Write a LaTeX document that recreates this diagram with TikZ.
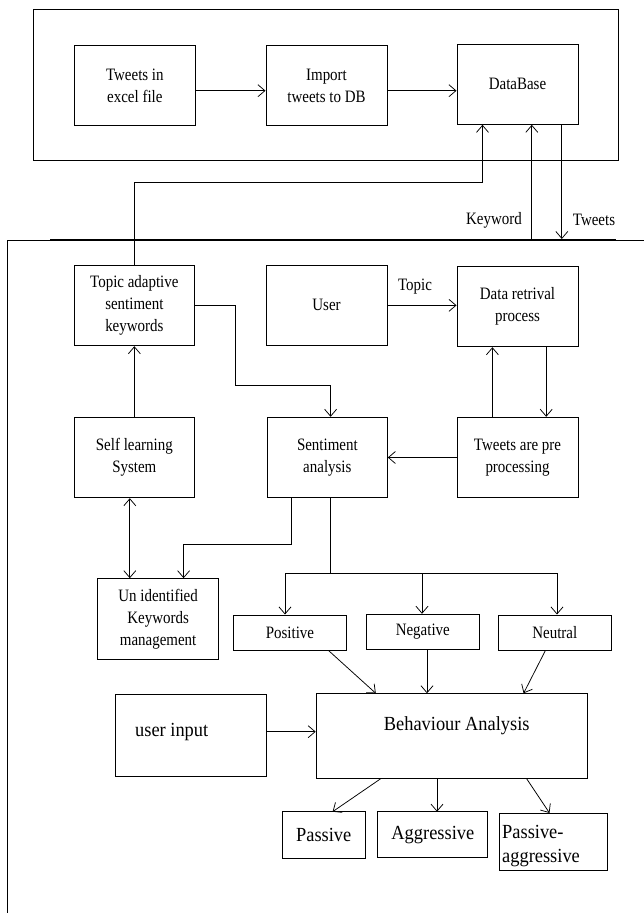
\documentclass[tikz,border=0pt]{standalone}
\usepackage{fontspec}
\setmainfont[FakeStretch=0.86]{Liberation Serif}
\newfontfamily\bigserif[FakeStretch=0.92]{Liberation Serif}
\usetikzlibrary{arrows.meta}
\newcommand{\fsm}{\fontsize{17.4}{22}\selectfont}
\newcommand{\fbg}{\bigserif\fontsize{20}{23.5}\selectfont}
\begin{document}
\begin{tikzpicture}[x=1pt,y=-1pt,
  box/.style={draw, line width=1pt, inner sep=0pt, align=center, font=\fsm},
  arr/.style={-{Straight Barb[length=7pt,width=12pt]}, line width=0.75pt},
  darr/.style={{Straight Barb[length=7pt,width=12pt]}-{Straight Barb[length=7pt,width=12pt]}, line width=0.75pt},
  ln/.style={line width=0.75pt},
  frame/.style={line width=1pt},
  lbl/.style={font=\fsm, inner sep=0pt},
  big/.style={font=\fbg, inner sep=0pt}]
\useasboundingbox (0,0) rectangle (644,913);
\fill[white] (0,0) rectangle (644,913);

% containers
\draw[frame] (33.7,9.3) rectangle (618,160.7);
\draw[frame] (7.4,913) -- (7.4,240.7) -- (644,240.7);
\draw[frame] (50,239) -- (616,239);

% boxes
\node[box, minimum width=120.3pt, minimum height=79.6pt] (excel) at (134.85,85.5) {Tweets in\\excel file};
\node[box, minimum width=121pt, minimum height=79.6pt] (import) at (326.5,85.5) {Import\\tweets to DB};
\node[box, minimum width=121pt, minimum height=80.3pt] (db) at (517.5,84.15) {DataBase};

\node[box, minimum width=120.7pt, minimum height=80.7pt] (topic) at (134.35,305.35) {Topic adaptive\\sentiment\\keywords};
\node[box, minimum width=121pt, minimum height=80.7pt] (user) at (326.5,305.35) {User};
\node[box, minimum width=121pt, minimum height=80.7pt] (dr) at (517.5,306.35) {Data retrival\\process};

\node[box, minimum width=120.7pt, minimum height=80.4pt] (self) at (134.35,457.5) {Self learning\\System};
\node[box, minimum width=119.9pt, minimum height=80.4pt] (sa) at (327.35,457.5) {Sentiment\\analysis};
\node[box, minimum width=121pt, minimum height=80.4pt] (pre) at (517.5,457.5) {Tweets are pre\\processing};

\node[box, minimum width=120.8pt, minimum height=80.6pt] (unid) at (158.1,619) {Un identified\\Keywords\\management};
\node[box, minimum width=112.5pt, minimum height=35pt] (pos) at (289.95,632.5) {Positive};
\node[box, minimum width=113pt, minimum height=34.7pt] (neg) at (422.8,631.65) {Negative};
\node[box, minimum width=112.4pt, minimum height=35pt] (neu) at (554.8,632.5) {Neutral};

\node[box, minimum width=151pt, minimum height=82.7pt] (ui) at (190.5,735.35) {};
\node[big] (uitext) at (171.7,732) {user input};
\node[box, minimum width=271.1pt, minimum height=84.7pt] (ba) at (451.75,735.65) {};
\node[big] (batext) at (456.7,725.7) {Behaviour Analysis};

\node[box, font=\fbg, minimum width=83.5pt, minimum height=46.6pt] (passive) at (323.75,835) {Passive};
\node[box, font=\fbg, minimum width=110.1pt, minimum height=46pt] (aggr) at (432.85,834.7) {Aggressive};
\node[box, minimum width=107.6pt, minimum height=57pt] (pa) at (553.2,841.5) {};
\node[big, align=left, anchor=north west] (patext) at (502,825.5) {Passive-\\aggressive};

% labels
\node[lbl] (kwl) at (494,220) {Keyword};
\node[lbl] (twl) at (594,220) {Tweets};
\node[lbl] (tpl) at (415,287) {Topic};

% coordinates
\coordinate (k1) at (482.5,182.7);
\coordinate (kw) at (531.8,239);
\coordinate (tw) at (561.8,239);
\coordinate (c1) at (235,385.7);
\coordinate (c2) at (183.6,544);
\coordinate (br) at (330.6,573);
\coordinate (bl) at (285,573);
\coordinate (bm) at (422,573);
\coordinate (brr) at (557,573);

% top connectors
\draw[arr] ([yshift=-5.2pt]excel.east) -- ([yshift=-5.2pt]import.west);
\draw[arr] ([yshift=-5.2pt]import.east) -- ([yshift=-5.2pt]import.east -| db.west);
\draw[arr] (topic.north) |- (k1) -- (k1 |- db.south);
\draw[arr] (kw) -- (kw |- db.south);
\draw[arr] (tw |- db.south) -- (tw);

% middle connectors
\draw[arr] (user.east) -- (user.east -| dr.west);
\draw[arr] (topic.east) -| (c1) -| ([xshift=3.25pt]sa.north);
\draw[arr] (self.north) -- (self.north |- topic.south);
\draw[arr] ([xshift=-25.1pt]pre.north) -- ([xshift=-25.1pt]dr.south);
\draw[arr] ([xshift=28.7pt]dr.south) -- ([xshift=28.7pt]pre.north);
\draw[arr] (pre.west) -- (pre.west -| sa.east);
\draw[darr] ([xshift=-4.55pt]self.south) -- ([xshift=-4.55pt]self.south |- unid.north);
\draw[arr] ([xshift=-35.75pt]sa.south) |- (c2) -- (c2 |- unid.north);
\draw[ln] ([xshift=3.25pt]sa.south) -- (br);
\draw[ln] (bl) -- (brr);
\draw[arr] (bl) -- (bl |- pos.north);
\draw[arr] (bm) -- (bm |- neg.north);
\draw[arr] (brr) -- (brr |- neu.north);

% to behaviour analysis
\coordinate (p1) at (375.8,693.3);
\coordinate (p2) at (427,693.3);
\coordinate (p3) at (523.6,693.3);
\draw[arr] ([xshift=38.55pt]pos.south) -- (p1);
\draw[arr] ([xshift=4.2pt]neg.south) -- (p2);
\draw[arr] ([xshift=-9.4pt]neu.south) -- (p3);
\draw[arr] ([yshift=3.65pt]ui.east) -- ([yshift=3.65pt]ui.east -| ba.west);

% outputs
\coordinate (q1) at (332.6,811.7);
\coordinate (q2) at (437,811.7);
\coordinate (q3) at (549.5,813);
\draw[arr] ([xshift=-70.75pt]ba.south) -- (q1);
\draw[arr] ([xshift=-14.75pt]ba.south) -- (q2);
\draw[arr] ([xshift=74.75pt]ba.south) -- (q3);
\end{tikzpicture}
\end{document}
